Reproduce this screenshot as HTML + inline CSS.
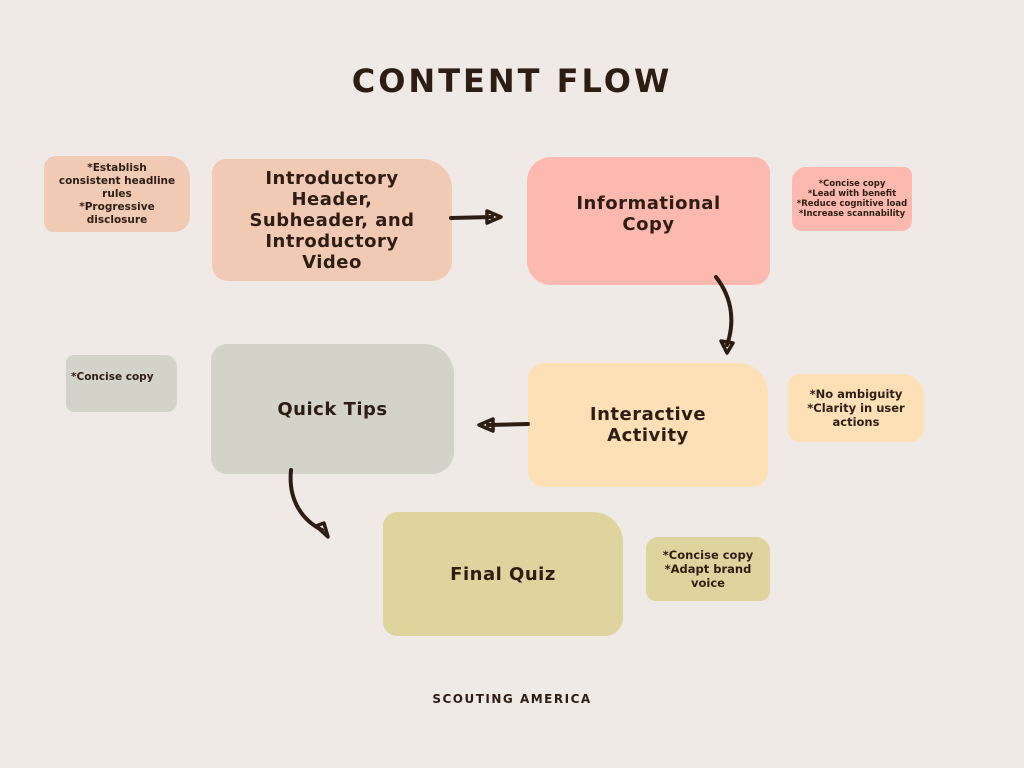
<!DOCTYPE html>
<html><head><meta charset="utf-8"><style>
body{margin:0;width:1024px;height:768px;background:#efeae6;position:relative;overflow:hidden;font-family:"DejaVu Sans","Liberation Sans",sans-serif;color:#2e1d12}
.b{position:absolute;display:flex;align-items:center;justify-content:center;text-align:center;font-weight:bold;box-sizing:border-box}
h1{position:absolute;left:0;width:1024px;top:62px;margin:0;text-align:center;font-size:32px;letter-spacing:3px;font-weight:bold}
.big{font-size:18px;line-height:21px;letter-spacing:0.5px}
.sm{font-size:10.5px;line-height:13px}
</style></head><body>
<h1>CONTENT FLOW</h1>
<div class="b sm" style="left:44px;top:156px;width:146px;height:76px;background:#f0cab3;border-radius:12px 22px 16px 10px">*Establish<br>consistent headline<br>rules<br>*Progressive<br>disclosure</div>
<div class="b big" style="left:212px;top:159px;width:240px;height:122px;background:#f0cab3;border-radius:14px 30px 20px 16px">Introductory<br>Header,<br>Subheader, and<br>Introductory<br>Video</div>
<div class="b big" style="left:527px;top:157px;width:243px;height:128px;background:#fdb9ae;border-radius:24px 16px 16px 24px;padding-bottom:15px">Informational<br>Copy</div>
<div class="b" style="left:792px;top:167px;width:120px;height:64px;background:#fdb9ae;border-radius:14px 8px 10px 10px;font-size:8.5px;line-height:10px">*Concise copy<br>*Lead with benefit<br>*Reduce cognitive load<br>*Increase scannability</div>
<div class="b sm" style="left:66px;top:355px;width:111px;height:57px;background:#d3d3ca;border-radius:8px 12px 10px 8px;justify-content:flex-start;align-items:flex-start;padding:16px 0 0 5px">*Concise copy</div>
<div class="b big" style="left:211px;top:344px;width:243px;height:130px;background:#d3d3ca;border-radius:16px 30px 22px 16px">Quick Tips</div>
<div class="b big" style="left:528px;top:363px;width:240px;height:124px;background:#fde0b6;border-radius:16px 30px 16px 16px">Interactive<br>Activity</div>
<div class="b sm" style="left:788px;top:374px;width:136px;height:68px;background:#fde0b6;border-radius:12px 22px 14px 12px;font-size:11.5px;line-height:14px">*No ambiguity<br>*Clarity in user<br>actions</div>
<div class="b big" style="left:383px;top:512px;width:240px;height:124px;background:#dfd49e;border-radius:14px 30px 18px 14px">Final Quiz</div>
<div class="b sm" style="left:646px;top:537px;width:124px;height:64px;background:#dfd49e;border-radius:12px 14px 10px 10px;font-size:11.5px;line-height:14px">*Concise copy<br>*Adapt brand<br>voice</div>
<div style="position:absolute;left:0;width:1024px;top:692px;text-align:center;font-size:12px;font-weight:bold;letter-spacing:1.5px">SCOUTING AMERICA</div>
<svg width="1024" height="768" style="position:absolute;left:0;top:0" fill="none" stroke="#2e1d12" stroke-width="4" stroke-linecap="round" stroke-linejoin="round">
<path d="M451 218 L492 217"/><path d="M487 211 L501 217 L487 223 Z" stroke-width="3.5"/>
<path d="M716 277 C734 300 734 325 727 345"/><path d="M721 341 L727 353 L733 343 Z" stroke-width="3.5"/>
<path d="M528 424 L488 425"/><path d="M493 419 L479 425 L493 431 Z" stroke-width="3.5"/>
<path d="M291 470 C288 500 302 520 322 530"/><path d="M316 526 L328 537 L324 523 Z" stroke-width="3.5"/>
</svg>
</body></html>
